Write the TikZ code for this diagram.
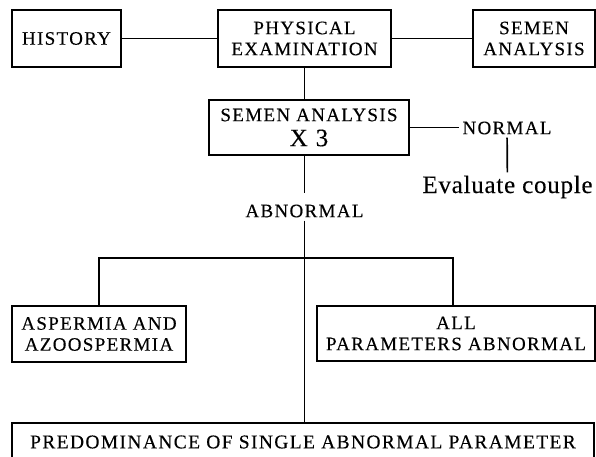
\documentclass[tikz,border=0pt]{standalone}
\usepackage{fontspec}
\setmainfont{Liberation Serif}
\newfontfamily\capsfont[LetterSpace=7,FakeBold=0.25]{Liberation Serif}
\newfontfamily\predfont[LetterSpace=7,FakeBold=0.25]{Liberation Serif}
\newfontfamily\evalfont[LetterSpace=3,FakeBold=0.2]{Liberation Serif}
\usetikzlibrary{positioning}

\begin{document}
\begin{tikzpicture}[
x=1pt, y=-1pt,
box/.style={rectangle, draw=black, line width=1.7pt, align=center, inner sep=0pt, font=\capsfont\fontsize{19}{21}\selectfont},
word/.style={rectangle, inner sep=3pt, font=\capsfont\fontsize{19}{21}\selectfont},
link/.style={line width=1.7pt}
]
\useasboundingbox (0,0) rectangle (596,457);
%Nodes
\node[box, minimum width=109, minimum height=57] (Hist)   at (66.5,38.5)  {HISTORY};
\node[box, minimum width=173, minimum height=57] (Phys)   at (304.5,38.5) {PHYSICAL\\EXAMINATION};
\node[box, minimum width=122, minimum height=57] (Semen)  at (534,38.5)   {SEMEN\\ANALYSIS};
\node[box, minimum width=200, minimum height=55] (Semen3) at (309,127.5)  {SEMEN ANALYSIS\\[4pt]{\fontsize{25}{25}\selectfont X 3}};

\node[word] (Norm) at (507,128) {NORMAL};
\node[font=\evalfont\fontsize{25}{25}\selectfont, inner sep=3pt] (Eval) at (507.5,187) {Evaluate couple};
\node[word] (Abn)  at (304.5,211) {ABNORMAL};
\coordinate (Split) at (304,258);

\node[box, minimum width=174, minimum height=56] (Asp)  at (99,334)    {ASPERMIA AND\\AZOOSPERMIA};
\node[box, minimum width=278, minimum height=55] (AllP) at (456,333.5) {ALL\\PARAMETERS ABNORMAL};
\node[box, minimum width=582, minimum height=38, font=\predfont\fontsize{19.5}{21}\selectfont] (Pred) at (303,442) {PREDOMINANCE OF SINGLE ABNORMAL PARAMETER};

%Lines
\draw[link] (Hist) -- (Phys);
\draw[link] (Phys) -- (Semen);
\draw[link] (Phys.south) -- (Phys.south |- Semen3.north);
\draw[link] (Semen3.east) -- (Semen3.east -| Norm.west);
\draw[link] (Norm) -- (Eval);
\draw[link, shorten >=8pt] (Abn |- Semen3.south) -- (Abn.north);
\draw[link] (Abn.south) -- (Abn |- Pred.north);
\draw[link] (Split) -| (Asp.north);
\draw[link] (Split) -| ([xshift=-3pt]AllP.north);
\end{tikzpicture}
\end{document}
